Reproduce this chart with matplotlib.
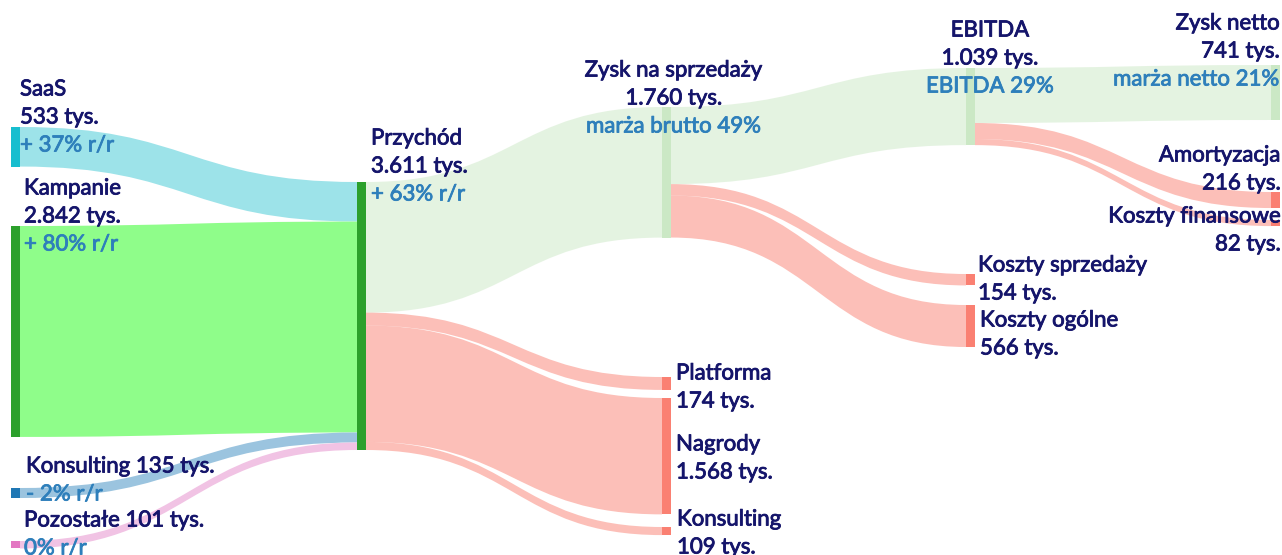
import matplotlib.pyplot as plt
import matplotlib.patheffects as pe
from matplotlib.path import Path
from matplotlib.patches import PathPatch, Rectangle

# nodes: name, column, top (px, layout)
node_names = ["SaaS", "Kampanie", "Konsulting", "Pozostałe", "Przychód",
              "Zysk na sprzedaży", "Platforma", "Nagrody", "Konsulting ",
              "EBITDA", "Koszty sprzedaży", "Koszty ogólne",
              "Zysk netto", "Amortyzacja", "Koszty finansowe"]

src = [0, 1, 2, 3, 4, 4, 4, 4, 5, 5, 5, 9, 9, 9]
tgt = [4, 4, 4, 4, 5, 6, 7, 8, 9, 10, 11, 12, 13, 14]
vals = [533, 2842, 135, 101, 1760, 174, 1568, 109, 1039, 154, 566, 741, 216, 82]

growth = {0: 37, 1: 80, 2: -2, 3: 0, 4: 63}   # % r/r

# layout
col_x = [11, 357, 662, 966, 1271]
node_col = [0, 0, 0, 0, 1, 2, 2, 2, 2, 3, 3, 3, 4, 4, 4]
node_top = [127, 226, 488, 541, 182, 107, 377, 398, 527, 68, 274, 305, 65, 192, 220]
node_w = 9
scale = 268 / 3611

node_col_c = ["#17becf", "#2ca02c", "#1f77b4", "#e377c2", "#2ca02c",
              "#cbe8c5", "#fa8072", "#fa8072", "#fa8072",
              "#cbe8c5", "#fa8072", "#fa8072",
              "#cbe8c5", "#fa8072", "#fa8072"]
link_col = ["#9de3e9", "#8ffd8a", "#9bc4df", "#f1c3e4"] + \
    [("#cbe8c5" if node_col_c[t] == "#cbe8c5" else "#fa8072") for t in tgt[4:]]
link_alpha = [1, 1, 1, 1] + [0.5] * 10

navy = "#15156b"
blue = "#2e7fbb"
font = "Lato"


def tys(v):
    return f"{v:,}".replace(",", ".") + " tys."


def pct(g):
    if g > 0:
        return f"+ {g}% r/r"
    if g < 0:
        return f"- {abs(g)}% r/r"
    return "0% r/r"


node_val = []
for i in range(len(node_names)):
    vin = sum(v for s, t, v in zip(src, tgt, vals) if t == i)
    vout = sum(v for s, t, v in zip(src, tgt, vals) if s == i)
    node_val.append(max(vin, vout))

fig = plt.figure(figsize=(12.82, 5.55), dpi=100)
ax = fig.add_axes([0, 0, 1, 1])
ax.set_xlim(0, 1282)
ax.set_ylim(555, 0)
ax.axis("off")

# links
out_off = {i: node_top[i] for i in range(len(node_names))}
in_off = {i: node_top[i] for i in range(len(node_names))}
order_out = sorted(range(len(vals)), key=lambda k: (src[k], node_top[tgt[k]]))
y_src = {}
for k in order_out:
    y_src[k] = out_off[src[k]]
    out_off[src[k]] += vals[k] * scale
order_in = sorted(range(len(vals)), key=lambda k: (tgt[k], node_top[src[k]]))
y_tgt = {}
for k in order_in:
    y_tgt[k] = in_off[tgt[k]]
    in_off[tgt[k]] += vals[k] * scale

for k in range(len(vals)):
    h = vals[k] * scale
    x0 = col_x[node_col[src[k]]] + node_w
    x1 = col_x[node_col[tgt[k]]]
    xm = (x0 + x1) / 2
    a, b = y_src[k], y_tgt[k]
    verts = [(x0, a), (xm, a), (xm, b), (x1, b), (x1, b + h),
             (xm, b + h), (xm, a + h), (x0, a + h), (x0, a)]
    codes = [Path.MOVETO, Path.CURVE4, Path.CURVE4, Path.CURVE4, Path.LINETO,
             Path.CURVE4, Path.CURVE4, Path.CURVE4, Path.CLOSEPOLY]
    ax.add_patch(PathPatch(Path(verts, codes), facecolor=link_col[k],
                           alpha=link_alpha[k], lw=0, zorder=1))

# nodes
for i in range(len(node_names)):
    ax.add_patch(Rectangle((col_x[node_col[i]], node_top[i]), node_w,
                           node_val[i] * scale, facecolor=node_col_c[i],
                           lw=0, zorder=2))

# labels
rev = node_val[4]
labels = {
    0: [node_names[0], tys(node_val[0]), pct(growth[0])],
    1: [node_names[1], tys(node_val[1]), pct(growth[1])],
    2: [node_names[2] + " " + tys(node_val[2]), pct(growth[2])],
    3: [node_names[3] + " " + tys(node_val[3]), pct(growth[3])],
    4: [node_names[4], tys(node_val[4]), pct(growth[4])],
    5: [node_names[5], tys(node_val[5]), f"marża brutto {round(100 * node_val[5] / rev)}%"],
    9: [node_names[9], tys(node_val[9]), f"EBITDA {round(100 * node_val[9] / rev)}%"],
    12: [node_names[12], tys(node_val[12]), f"marża netto {round(100 * node_val[12] / rev)}%"],
}
for i in [6, 7, 8, 10, 11, 13, 14]:
    labels[i] = [node_names[i].strip(), tys(node_val[i])]

# label anchor: x, first line centre y, alignment
label_pos = {
    0: (20, 88, "left"), 1: (24, 187, "left"), 2: (26, 465, "left"),
    3: (24, 519, "left"), 4: (371, 137, "left"), 5: (674, 69, "center"),
    9: (990, 29, "center"), 12: (1280, 22, "right"), 13: (1281, 154, "right"),
    14: (1281, 215, "right"), 10: (978, 264, "left"), 11: (980, 319, "left"),
    6: (676, 372, "left"), 7: (676, 443, "left"), 8: (677, 518, "left"),
}
step = 28
for i, lines in labels.items():
    x, y, ha = label_pos[i]
    for j, line in enumerate(lines):
        c = blue if ("%" in line and j == len(lines) - 1) else navy
        ax.text(x, y + j * step + 7.5, line, ha=ha, va="baseline",
                fontsize=16, color=c, family=[font, "DejaVu Sans"], zorder=3,
                path_effects=[pe.withStroke(linewidth=0.6, foreground=c)])

fig.savefig("out.png", dpi=100)
